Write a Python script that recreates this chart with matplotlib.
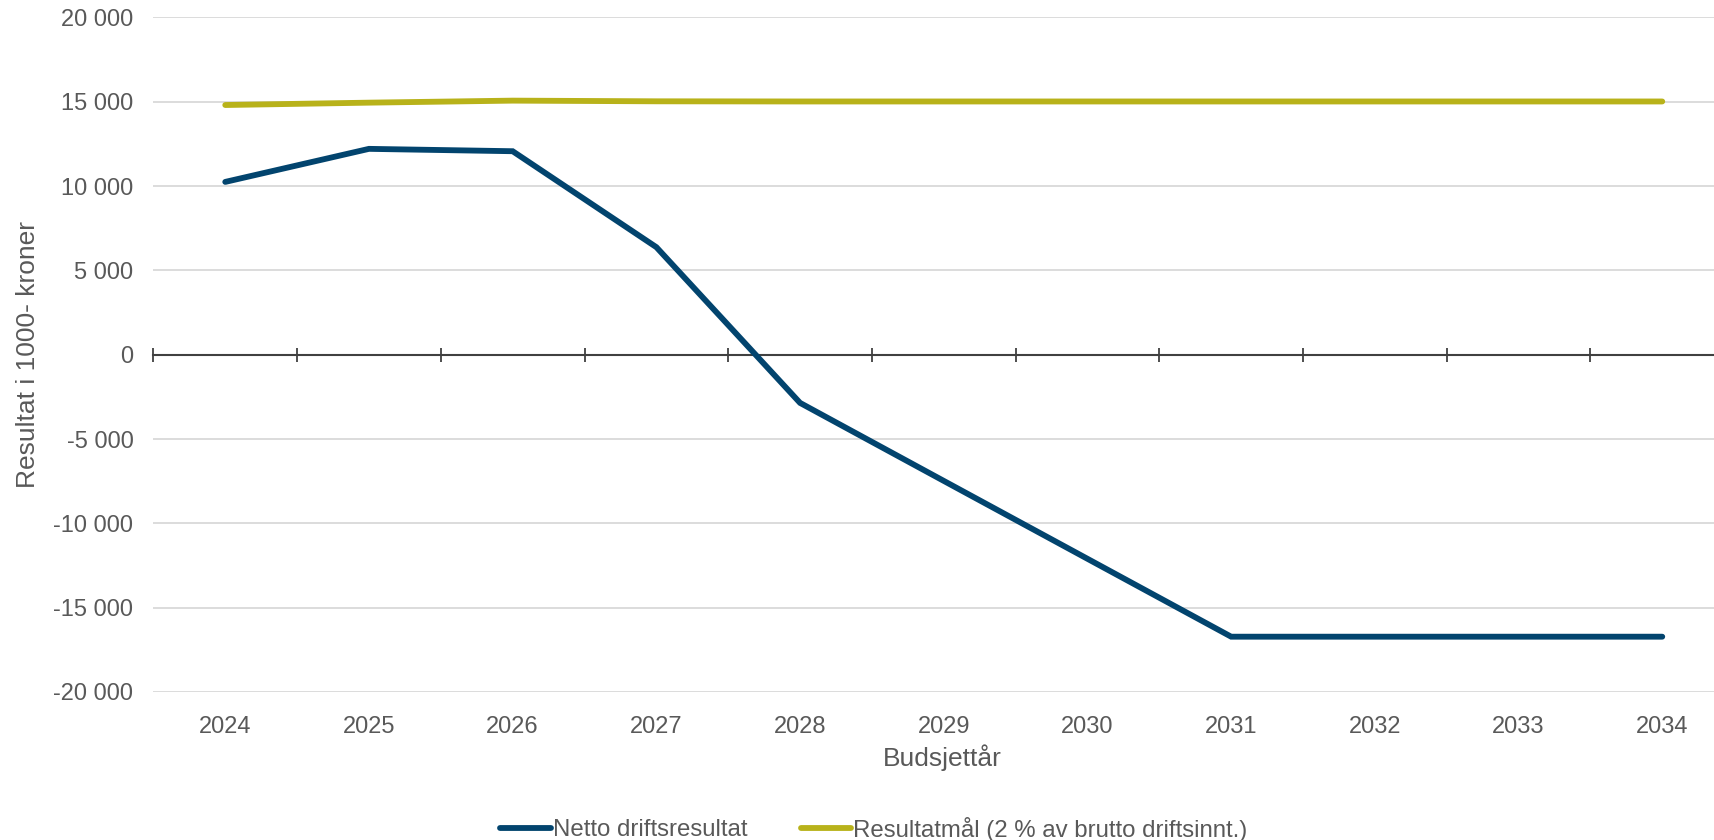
import numpy as np
import matplotlib.pyplot as plt
from matplotlib.ticker import FuncFormatter

# Data (1000 kroner)
years = ['2024', '2025', '2026', '2027', '2028', '2029', '2030', '2031', '2032', '2033', '2034']
netto = [10250, 12210, 12070, 6380, -2855, -7480, -12100, -16720, -16720, -16720, -16720]
maal = [14810, 14950, 15070, 15030, 15020, 15020, 15020, 15020, 15020, 15020, 15020]
y_ticks = [-20000, -15000, -10000, -5000, 0, 5000, 10000, 15000, 20000]

navy = '#02446E'
gold = '#B8B21A'
txt = '#595959'
axis_col = '#404040'

plt.rcParams['font.family'] = ['Liberation Sans', 'DejaVu Sans']

fig = plt.figure(figsize=(17.14, 8.4), dpi=100)
ax = fig.add_axes([153.4 / 1714, 1 - 692 / 840, (1714 - 153.4) / 1714, (692 - 17.5) / 840])

x = np.arange(len(years))
l1, = ax.plot(x, netto, color=navy, lw=4.2, solid_capstyle='round', solid_joinstyle='miter', zorder=3)
l2, = ax.plot(x, maal, color=gold, lw=4.2, solid_capstyle='round', zorder=3)

ax.set_xlim(-0.5, 10.36)
ax.set_ylim(-20000, 20000)

# y axis: gridlines and spaced thousands
ax.set_yticks(y_ticks)
ax.yaxis.set_major_formatter(FuncFormatter(lambda v, p: f"{int(v):,}".replace(',', ' ')))
ax.tick_params(axis='y', length=0, pad=14.4, labelsize=17, labelcolor=txt)
ax.yaxis.grid(True, color='#D9D9D9', lw=1.3)
ax.set_axisbelow(True)

for s in ['top', 'right', 'left']:
    ax.spines[s].set_visible(False)

# category axis crosses at zero, ticks between categories
ax.spines['bottom'].set_position(('data', 0))
ax.spines['bottom'].set_color(axis_col)
ax.spines['bottom'].set_linewidth(1.5)
ax.set_xticks(np.arange(-0.5, 10, 1))
ax.tick_params(axis='x', direction='inout', length=10, width=1.3, color=axis_col, labelbottom=False)

# year labels at the bottom of the plot area
sec = ax.secondary_xaxis(0)
sec.set_xticks(x)
sec.set_xticklabels(years)
sec.tick_params(length=0, pad=17, labelsize=17, labelcolor=txt)
sec.spines['bottom'].set_visible(False)

fig.text(942.5 / 1714, 1 - 758 / 840, 'Budsjettår', ha='center', va='center', fontsize=19, color=txt)
fig.text(28 / 1714, 1 - 354 / 840, 'Resultat i 1000- kroner', ha='center', va='center',
         rotation=90, fontsize=19, color=txt)

leg = fig.legend([l1, l2], ['Netto driftsresultat', 'Resultatmål (2 % av brutto driftsinnt.)'],
                 loc='center', bbox_to_anchor=(874 / 1714, 1 - 829 / 840), ncol=2,
                 frameon=False, fontsize=17.3, handlelength=2.12, handletextpad=0.08,
                 columnspacing=2.2, borderpad=0, borderaxespad=0)
for t in leg.get_texts():
    t.set_color(txt)
for h in leg.get_lines():
    h.set_linewidth(4.2)

fig.savefig('out.png', dpi=100)
